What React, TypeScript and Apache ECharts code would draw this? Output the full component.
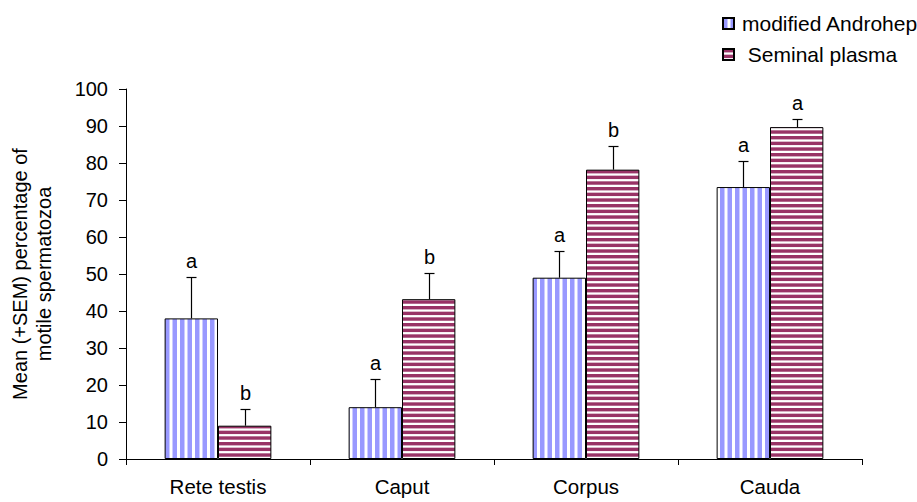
import React, { useEffect, useRef } from "react";
import * as echarts from "echarts";

const categories = ["Rete testis", "Caput", "Corpus", "Cauda"];
const androhepMeans = [38, 14, 49, 73.5];
const androhepErrTop = [49.2, 21.5, 56.2, 80.5];
const androhepLetters = ["a", "a", "a", "a"];
const plasmaMeans = [9, 43.2, 78.2, 89.7];
const plasmaErrTop = [13.6, 50.2, 84.6, 92];
const plasmaLetters = ["b", "b", "b", "a"];
const yTicks = { min: 0, max: 100, interval: 10 };

const FONT = "'Liberation Sans', Arial, sans-serif";
const BAR_FRAC = 0.29;

function makePattern(kind: "v" | "h"): string {
  const c = document.createElement("canvas");
  const ctx = c.getContext("2d")!;
  if (kind === "v") {
    c.width = 15;
    c.height = 8;
    ctx.fillStyle = "#ffffff";
    ctx.fillRect(0, 0, 15, 8);
    ctx.fillStyle = "#9999ff";
    ctx.fillRect(0, 0, 4.5, 8);
    ctx.fillRect(7.5, 0, 4.5, 8);
  } else {
    c.width = 8;
    c.height = 17;
    ctx.fillStyle = "#ffffff";
    ctx.fillRect(0, 0, 8, 17);
    ctx.fillStyle = "#993366";
    for (let k = 0; k < 3; k++) ctx.fillRect(0, k * (17 / 3), 8, 3.4);
  }
  return c.toDataURL();
}

function errSeries(name: string, means: number[], tops: number[], letters: string[], side: number) {
  return {
    type: "custom",
    name,
    silent: true,
    z: 5,
    data: tops.map((t, i) => [i, t]),
    renderItem: (params: any, api: any) => {
      const i = api.value(0);
      const top = api.value(1);
      const band = api.size([1, 0])[0];
      const off = ((band * BAR_FRAC) / 2) * side;
      const pTop = api.coord([i, top]);
      const pMean = api.coord([i, means[i]]);
      const x = Math.round(pTop[0] + off) + 0.5;
      const yt = Math.round(pTop[1]) + 0.5;
      const st = { stroke: "#000", lineWidth: 1.2 };
      return {
        type: "group",
        children: [
          { type: "line", shape: { x1: x, y1: pMean[1], x2: x, y2: yt }, style: st },
          { type: "line", shape: { x1: x - 5, y1: yt, x2: x + 5, y2: yt }, style: st },
          {
            type: "text",
            style: {
              text: letters[i],
              x,
              y: yt - 7,
              textAlign: "center",
              textVerticalAlign: "bottom",
              font: `20px ${FONT}`,
              fill: "#000",
            },
          },
        ],
      };
    },
  };
}

export default function App() {
  const ref = useRef<HTMLDivElement>(null);
  useEffect(() => {
    const chart = echarts.init(ref.current!, null, { renderer: "svg" });
    const blue = { image: makePattern("v"), repeat: "repeat" };
    const red = { image: makePattern("h"), repeat: "repeat" };
    chart.setOption({
      animation: false,
      backgroundColor: "#fff",
      legend: {
        data: ["modified Androhep", "Seminal plasma"],
        orient: "vertical",
        left: 717,
        top: 8,
        itemWidth: 11,
        itemHeight: 11,
        itemGap: 10,
        icon: "rect",
        formatter: (n: string) => (n === "Seminal plasma" ? " " + n : n),
        textStyle: { fontFamily: FONT, fontSize: 21, color: "#000", padding: [0, 0, 0, 3] },
      },
      grid: { left: 126, right: 55, top: 89, bottom: 43, containLabel: false, outerBoundsMode: "none" },
      xAxis: {
        type: "category",
        data: categories,
        axisLine: { lineStyle: { color: "#000", width: 1 } },
        axisTick: { show: true, length: 6, lineStyle: { color: "#000" } },
        axisLabel: { fontFamily: FONT, fontSize: 20.5, color: "#000", margin: 17 },
      },
      yAxis: {
        type: "value",
        min: yTicks.min,
        max: yTicks.max,
        interval: yTicks.interval,
        name: "Mean (+SEM) percentage of\nmotile spermatozoa",
        nameLocation: "middle",
        nameGap: 70,
        nameRotate: 90,
        nameTextStyle: { fontFamily: FONT, fontSize: 20, color: "#000", lineHeight: 24 },
        splitLine: { show: false },
        axisLine: { show: true, lineStyle: { color: "#000", width: 1 } },
        axisTick: { show: true, length: 7, lineStyle: { color: "#000" } },
        axisLabel: { fontFamily: FONT, fontSize: 20, color: "#000", margin: 18 },
      },
      series: [
        {
          type: "bar",
          name: "modified Androhep",
          data: androhepMeans,
          barWidth: BAR_FRAC * 100 + "%",
          barGap: "0%",
          itemStyle: { color: blue, borderColor: "#000", borderWidth: 1 },
        },
        {
          type: "bar",
          name: "Seminal plasma",
          data: plasmaMeans,
          barWidth: BAR_FRAC * 100 + "%",
          barGap: "0%",
          itemStyle: { color: red, borderColor: "#000", borderWidth: 1 },
        },
        errSeries("errA", androhepMeans, androhepErrTop, androhepLetters, -1),
        errSeries("errB", plasmaMeans, plasmaErrTop, plasmaLetters, 1),
      ],
    });
    return () => chart.dispose();
  }, []);
  return <div ref={ref} style={{ width: 917, height: 502, position: "fixed", left: 0, top: 0 }} />;
}
